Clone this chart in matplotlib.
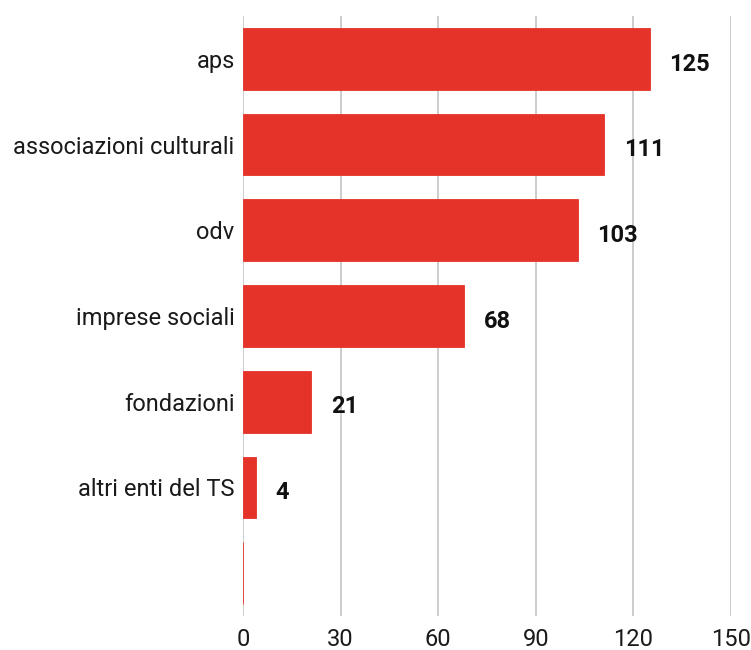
import matplotlib
matplotlib.use("Agg")
import matplotlib.pyplot as plt

plt.rcParams['font.family'] = ['Roboto', 'DejaVu Sans']

categories = ["aps", "associazioni culturali", "odv", "imprese sociali",
              "fondazioni", "altri enti del TS", ""]
values = [125, 111, 103, 68, 21, 4, 0]
value_labels = ["125", "111", "103", "68", "21", "4", ""]
xticks = [0, 30, 60, 90, 120, 150]

bar_color = "#E5332A"

fig = plt.figure(figsize=(7.51, 6.5), dpi=100)
ax = fig.add_axes([243 / 751, 1 - 616 / 650, (731 - 243) / 751, 600 / 650])

ypos = list(range(len(categories)))
bars = ax.barh(ypos, values, height=0.72, color=bar_color,
               edgecolor=bar_color, linewidth=0.6, zorder=3)

for y, v, lab in zip(ypos, values, value_labels):
    if lab:
        ax.annotate(lab, xy=(v, y), xytext=(14, -2), textcoords="offset points",
                    ha="left", va="center_baseline", fontsize=17,
                    fontweight="bold", color="#111111")

ax.set_xlim(0, 150)
ax.set_ylim(len(categories) - 0.5, -0.5)
ax.set_xticks(xticks)
ax.set_xticklabels([str(t) for t in xticks])
ax.set_yticks(ypos)
ax.set_yticklabels(categories, va="center_baseline")

ax.grid(axis="x", color="#c4c4c4", linewidth=1.2, zorder=0)
ax.grid(axis="y", visible=False)
for s in ax.spines.values():
    s.set_visible(False)
ax.tick_params(axis="both", length=0, labelsize=17, colors="#1a1a1a")
ax.tick_params(axis="x", pad=9)
ax.tick_params(axis="y", pad=6)

fig.savefig("out.png", dpi=100, facecolor="white")
